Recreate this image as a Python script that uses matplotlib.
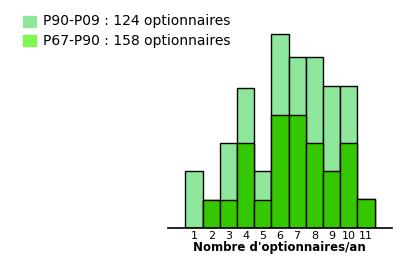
import numpy as np
import matplotlib.pyplot as plt

# nombre d'optionnaires par an
cats = np.arange(1, 12)
p90_p09 = [2.0, 1.0, 3.0, 4.94, 2.0, 6.84, 6.03, 6.03, 5.01, 5.01, 1.01]
p67_p90 = [0, 0.99, 0.99, 2.99, 0.99, 4.0, 4.0, 2.99, 2.0, 3.0, 1.01]
legend_labels = ['P90-P09 : 124 optionnaires', 'P67-P90 : 158 optionnaires']

light = '#8ee69a'
dark = '#33c800'
legend_dark = '#7ef74e'

fig = plt.figure(figsize=(4, 2.56), dpi=100)
ax = fig.add_axes([167.7 / 400, 28 / 256, 224 / 400, 198.1 / 256])

ax.bar(cats, p90_p09, width=1, color=light, edgecolor='black', linewidth=1)
ax.bar(cats, p67_p90, width=1, color=dark, edgecolor='black', linewidth=1)

ax.set_xlim(-0.53, 12.5)
ax.set_ylim(0, 7)
for s in ['top', 'right', 'left']:
    ax.spines[s].set_visible(False)
ax.spines['bottom'].set_linewidth(1.2)
ax.set_yticks([])
ax.set_xticks(cats)
ax.set_xticklabels([str(c) for c in cats], fontsize=8)
ax.tick_params(axis='x', length=0, pad=2)
ax.set_xlabel("Nombre d'optionnaires/an", fontsize=8.5, fontweight='bold', labelpad=0)

# legende
for i, (lab, col) in enumerate(zip(legend_labels, [light, legend_dark])):
    y = 1 - (21.5 + i * 19) / 256
    fig.patches.append(plt.Rectangle((23.3 / 400, y - 5.5 / 256), 12.4 / 400, 11 / 256,
                                     transform=fig.transFigure, color=col))
    fig.text(43 / 400, y, lab, fontsize=10, va='center', ha='left')

fig.savefig('out.png', dpi=100)
